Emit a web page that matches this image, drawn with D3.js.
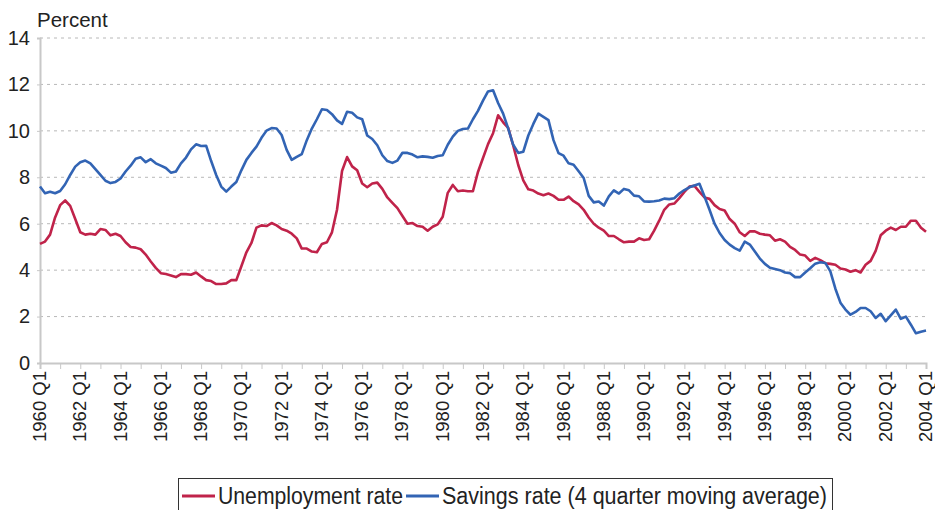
<!DOCTYPE html>
<html>
<head>
<meta charset="utf-8">
<script src="https://cdn.jsdelivr.net/npm/d3@7"></script>
<style>
  body { margin: 0; background: #fff; }
  svg { font-family: "Liberation Sans", Arial, sans-serif; }
</style>
</head>
<body>
<div id="chart"></div>
<script>
// quarterly, 1960 Q1 .. 2004 Q1
const startYear = 1960;
const unemployment = [
  5.13, 5.23, 5.53, 6.27,  6.80, 7.00, 6.77, 6.20,  5.63, 5.53, 5.57, 5.53,
  5.77, 5.73, 5.50, 5.57,  5.47, 5.20, 5.00, 4.97,  4.90, 4.67, 4.37, 4.10,
  3.87, 3.83, 3.77, 3.70,  3.83, 3.83, 3.80, 3.90,  3.73, 3.57, 3.53, 3.40,
  3.40, 3.43, 3.57, 3.57,  4.17, 4.77, 5.17, 5.83,  5.93, 5.90, 6.03, 5.93,
  5.77, 5.70, 5.57, 5.37,  4.93, 4.93, 4.80, 4.77,  5.13, 5.20, 5.63, 6.60,
  8.27, 8.87, 8.47, 8.30,  7.73, 7.57, 7.73, 7.77,  7.50, 7.13, 6.90, 6.67,
  6.33, 6.00, 6.03, 5.90,  5.87, 5.70, 5.87, 5.97,  6.30, 7.33, 7.67, 7.40,
  7.43, 7.40, 7.40, 8.23,  8.83, 9.43, 9.90, 10.67, 10.37, 10.13, 9.37, 8.53,
  7.87, 7.48, 7.43, 7.30,  7.23, 7.30, 7.20, 7.03,  7.03, 7.17, 6.97, 6.83,
  6.60, 6.27, 6.00, 5.83,  5.70, 5.47, 5.47, 5.33,  5.20, 5.23, 5.23, 5.37,
  5.30, 5.33, 5.70, 6.13,  6.60, 6.83, 6.87, 7.10,  7.37, 7.60, 7.63, 7.37,
  7.13, 7.07, 6.80, 6.63,  6.57, 6.20, 6.00, 5.63,  5.47, 5.67, 5.67, 5.57,
  5.53, 5.50, 5.27, 5.33,  5.23, 5.00, 4.87, 4.67,  4.63, 4.40, 4.53, 4.43,
  4.30, 4.27, 4.23, 4.07,  4.03, 3.93, 4.00, 3.90,  4.23, 4.40, 4.83, 5.50,
  5.70, 5.83, 5.73, 5.87,  5.87, 6.13, 6.13, 5.83,  5.65
];
const savings = [
  7.60, 7.31, 7.38, 7.31,  7.41, 7.70, 8.10, 8.46,  8.65, 8.72, 8.60, 8.35,
  8.10, 7.85, 7.75, 7.80,  7.95, 8.25, 8.50, 8.80,  8.86, 8.65, 8.78, 8.60,
  8.50, 8.40, 8.20, 8.25,  8.60, 8.85, 9.20, 9.42,  9.35, 9.36, 8.70, 8.10,
  7.60, 7.38, 7.60, 7.80,  8.30, 8.75, 9.05, 9.32,  9.70, 10.01, 10.12, 10.10,
  9.82, 9.18, 8.75, 8.88,  9.00, 9.60, 10.10, 10.50, 10.93, 10.90, 10.72, 10.45,
  10.30, 10.82, 10.78, 10.58, 10.50, 9.80, 9.65, 9.38, 8.95, 8.70, 8.62, 8.72,
  9.06, 9.05, 8.98, 8.86,  8.90, 8.88, 8.84, 8.92,  8.95, 9.40, 9.75, 10.00,
  10.08, 10.10, 10.50, 10.86, 11.30, 11.70, 11.75, 11.20, 10.74, 10.10, 9.40, 9.05,
  9.10, 9.80, 10.30, 10.74, 10.60, 10.46, 9.60, 9.04, 8.93, 8.60, 8.54, 8.26,
  7.97, 7.20, 6.92, 6.96,  6.78, 7.18, 7.44, 7.30,  7.50, 7.44, 7.21, 7.18,
  6.96, 6.95, 6.97, 7.00,  7.08, 7.06, 7.10, 7.30,  7.45, 7.57, 7.65, 7.72,
  7.17, 6.60, 6.00, 5.60,  5.30, 5.10, 4.95, 4.84,  5.23, 5.10, 4.80, 4.50,
  4.27, 4.10, 4.05, 4.00,  3.90, 3.87, 3.70, 3.70,  3.90, 4.08, 4.28, 4.34,
  4.31, 3.95, 3.20, 2.60,  2.30, 2.08, 2.20, 2.37,  2.37, 2.23, 1.94, 2.12,
  1.80, 2.05, 2.30, 1.90,  2.00, 1.65, 1.28, 1.35,  1.40
];
const yTicks = [0, 2, 4, 6, 8, 10, 12, 14];
const seriesNames = ["Unemployment rate", "Savings rate (4 quarter moving average)"];
const colors = ["#c0234a", "#3264b4"];

const width = 935, height = 510;
const margin = { left: 40, right: 9, top: 38, bottom: 147 };

const svg = d3.select("#chart").append("svg")
  .attr("width", width)
  .attr("height", height);

const x = d3.scaleLinear()
  .domain([0, unemployment.length - 1])
  .range([margin.left, width - margin.right]);
const y = d3.scaleLinear()
  .domain([0, 14])
  .range([height - margin.bottom, margin.top]);

const quarterLabel = i => (startYear + Math.floor(i / 4)) + " Q" + (i % 4 + 1);

// gridlines
svg.append("g")
  .selectAll("line")
  .data(yTicks.filter(d => d > 0))
  .enter().append("line")
  .attr("x1", x(0)).attr("x2", x(unemployment.length - 1))
  .attr("y1", d => y(d)).attr("y2", d => y(d))
  .attr("stroke", "#b8b8b8")
  .attr("stroke-width", 1)
  .attr("stroke-dasharray", "3,4");

// y axis
const yAxis = svg.append("g")
  .attr("transform", "translate(" + margin.left + ",0)")
  .call(d3.axisLeft(y).tickValues(yTicks).tickSize(3).tickPadding(7));
yAxis.select(".domain").attr("stroke", "#c8c8c8").attr("stroke-width", 2);
yAxis.selectAll(".tick line").attr("stroke", "#c8c8c8");
yAxis.selectAll("text").attr("font-size", 20).attr("fill", "#222");

// x axis
const yearTicks = d3.range(0, unemployment.length, 4);
const xAxis = svg.append("g")
  .attr("transform", "translate(0," + y(0) + ")")
  .call(d3.axisBottom(x).tickValues(yearTicks).tickSize(6)
    .tickFormat(i => (i % 8 === 0 ? quarterLabel(i) : "")));
xAxis.select(".domain").attr("stroke", "#c8c8c8").attr("stroke-width", 2);
xAxis.selectAll(".tick line").attr("stroke", "#c8c8c8");
xAxis.selectAll("text")
  .attr("font-size", 18.5)
  .attr("fill", "#222")
  .attr("transform", "rotate(-90)")
  .attr("text-anchor", "end")
  .attr("x", -8)
  .attr("y", -1)
  .attr("dy", "0.35em");

// "Percent"
svg.append("text")
  .attr("x", 37).attr("y", 27)
  .attr("font-size", 20.5)
  .attr("fill", "#222")
  .text("Percent");

// lines
const line = d3.line()
  .x((d, i) => x(i))
  .y(d => y(d));

[unemployment, savings].forEach((s, k) => {
  svg.append("path")
    .datum(s)
    .attr("fill", "none")
    .attr("stroke", colors[k])
    .attr("stroke-width", 2.6)
    .attr("stroke-linejoin", "round")
    .attr("d", line);
});

// legend
const legend = svg.append("g");
legend.append("rect")
  .attr("x", 178.5).attr("y", 478.5)
  .attr("width", 654).attr("height", 40)
  .attr("fill", "#fff")
  .attr("stroke", "#333")
  .attr("stroke-width", 1);
const legendX = [182, 406];
const legendTextW = [185, 385];
seriesNames.forEach((name, k) => {
  legend.append("line")
    .attr("x1", legendX[k]).attr("x2", legendX[k] + 33)
    .attr("y1", 496).attr("y2", 496)
    .attr("stroke", colors[k])
    .attr("stroke-width", 3);
  legend.append("text")
    .attr("x", legendX[k] + 36).attr("y", 504)
    .attr("font-size", 23)
    .attr("textLength", legendTextW[k])
    .attr("lengthAdjust", "spacingAndGlyphs")
    .attr("fill", "#222")
    .text(name);
});
</script>
</body>
</html>
